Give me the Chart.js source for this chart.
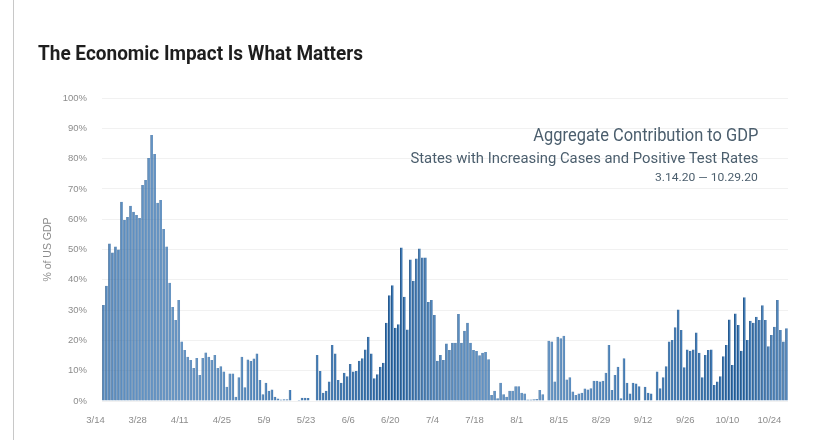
<!DOCTYPE html>
<html>
<head>
<meta charset="utf-8">
<script src="https://cdn.jsdelivr.net/npm/chart.js@4.4.0/dist/chart.umd.min.js"></script>
<style>
  html,body{margin:0;padding:0;background:#fff;}
  #wrap{position:relative;width:824px;height:447px;overflow:hidden;background:#fff;}
  #border{position:absolute;left:13px;top:0;width:0;height:440px;border-left:1px solid #c8c8c8;}
  canvas{position:absolute;left:0;top:0;}
  .txt{position:absolute;white-space:nowrap;line-height:1;}
  #title{left:38px;top:41px;font:bold 21px Roboto, sans-serif;color:#1e1e1e;transform-origin:left center;}
  .ann{right:66px;color:#4b5e6d;font-family:Roboto, sans-serif;transform-origin:right center;}
  #a1{top:126px;font-size:18px;}
  #a2{top:151px;font-size:14px;}
  #a3{top:172px;font-size:11.5px;}
</style>
</head>
<body>
<div id="wrap">
  <div id="border"></div>
  <canvas id="c" width="824" height="447"></canvas>
  <div id="title" class="txt" data-w="325">The Economic Impact Is What Matters</div>
  <div id="a1" class="txt ann" data-w="225">Aggregate Contribution to GDP</div>
  <div id="a2" class="txt ann" data-w="348">States with Increasing Cases and Positive Test Rates</div>
  <div id="a3" class="txt ann" data-w="103">3.14.20 — 10.29.20</div>
</div>
<script>
// Month spans of the daily categories: [month, first day, last day]
const monthSpans = [[3,14,31],[4,1,30],[5,1,31],[6,1,30],[7,1,31],[8,1,31],[9,1,30],[10,1,27]];
const tickLabels = ['3/14','3/28','4/11','4/25','5/9','5/23','6/6','6/20','7/4','7/18','8/1','8/15','8/29','9/12','9/26','10/10','10/24'];
const yTicks = [0,10,20,30,40,50,60,70,80,90,100];
// % of US GDP, daily
const gdpShare = [
 31.7,38,52,49,51,50,65.8,59.7,60.7,64.4,62.5,61.4,60.4,71.3,72.9,80.2,87.8,81.5,65.4,66.3,
 56.8,51,39,31,26.7,33.3,19.6,16.8,14.6,13.5,10.9,14.2,8.6,14.2,16,14.6,13.5,15.2,10.9,11.5,
 9.7,4.7,9.1,9.1,1.4,7.8,14.6,4.5,13.7,13.2,14,15.7,6.9,2.2,6,3.4,3.8,1.4,0.8,0.5,
 0.6,0.6,3.6,0,0,0.3,1.1,1.1,1,0,0,15.2,9.9,2.7,3.4,6.4,18.5,15.7,6.9,6,
 9.3,8.2,12.2,9.7,9.9,13.3,14.1,17,21.2,15.7,7.5,8.8,11.3,12.6,25.8,34.9,38.2,24.2,25.3,50.7,
 34.4,23.6,46.7,39.7,47,50.3,47.4,47.4,32.7,33.3,28.4,13.3,15.2,13.5,19,16.8,19.2,19.2,28.7,19.2,
 23.2,25.8,19.2,16.8,16.5,15.1,15.9,16.2,13.8,2,3.4,0.9,6,2.2,1.4,3.4,3.4,4.9,4.9,2.7,
 2.5,0.5,0.5,0.6,0.7,3.6,2.2,0,19.9,19.6,6.4,21.2,20.7,21.5,7.1,7.8,3.1,2,2.5,2.7,
 4.1,3.8,4.2,6.7,6.7,6.4,6.7,9.3,18.5,3.6,8.6,11.3,0.9,14.1,6,2.5,6,5.8,4.9,0,
 4.7,2.7,2.5,0,9.7,4.2,7.8,11.5,19.6,20.1,24.3,30.2,23.4,11.1,17,16.6,17,22.6,15.9,7.8,
 15.2,16.8,17,5.3,6.4,8.2,14.8,18.5,26.9,11.9,28.9,25.1,16.6,34.2,20.1,26.5,25.8,27.8,26.7,31.6,
 26.7,18.1,21.8,24.5,33.3,23.4,19.6,24
];

const categories = [];
monthSpans.forEach(([m, a, b]) => { for (let d = a; d <= b; d++) categories.push(m + '/' + d); });

// fit condensed-looking texts to their measured widths
document.querySelectorAll('.txt').forEach(el => {
  const w = el.getBoundingClientRect().width;
  const target = +el.dataset.w;
  el.style.transform = 'scaleX(' + (target / w) + ')';
});

new Chart(document.getElementById('c'), {
  type: 'bar',
  data: {
    labels: categories,
    datasets: [{
      data: gdpShare,
      backgroundColor: '#3e7ab7',
      borderColor: '#28598b',
      borderWidth: {left: 1, right: 0.4, top: 0, bottom: 0},
      barPercentage: 0.9,
      categoryPercentage: 1
    }]
  },
  options: {
    responsive: false,
    animation: false,
    devicePixelRatio: 1,
    layout: {padding: {left: 38, right: 36, top: 98, bottom: 0}},
    plugins: {legend: {display: false}, tooltip: {enabled: false}},
    scales: {
      x: {
        grid: {display: false},
        border: {display: false},
        ticks: {
          autoSkip: false, maxRotation: 0, minRotation: 0,
          labelOffset: -8, padding: 6,
          color: '#8c8c8c',
          font: {family: 'Liberation Sans, Arial, sans-serif', size: 9.5},
          callback: function(v, i) { const l = categories[i]; return tickLabels.includes(l) ? l : ''; }
        },
        afterFit: s => { s.height = 46; }
      },
      y: {
        min: 0, max: 100,
        afterBuildTicks: s => { s.ticks = yTicks.map(v => ({value: v})); },
        grid: {color: '#f1f1f1', drawTicks: false},
        border: {display: false},
        ticks: {
          padding: 15, color: '#8c8c8c',
          font: {family: 'Liberation Sans, Arial, sans-serif', size: 9.5},
          callback: v => v + '%'
        },
        title: {
          display: true, text: '% of US GDP', color: '#8c8c8c',
          font: {family: 'Liberation Sans, Arial, sans-serif', size: 10.5},
          padding: {top: 4, bottom: 0}
        },
        afterFit: s => { s.width = 64; }
      }
    }
  }
});
</script>
</body>
</html>
